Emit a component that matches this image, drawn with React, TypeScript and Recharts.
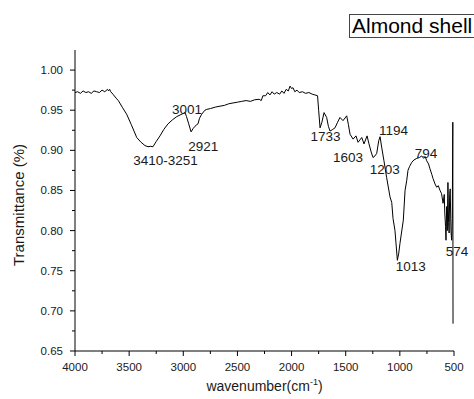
import { LineChart, Line, XAxis, YAxis, ReferenceDot, Label } from "recharts";

// FTIR spectrum of almond shell
const wavenumber = [
  4000, 3975, 3950, 3925, 3900, 3875, 3850, 3825, 3800, 3775, 3750, 3725, 3700, 3690, 3680, 3670,
  3650, 3620, 3600, 3560, 3523, 3480, 3430, 3390, 3354, 3326, 3300, 3280, 3250, 3215, 3180, 3141,
  3100, 3060, 3030, 3000, 2984, 2970, 2950, 2928, 2910, 2892, 2875, 2864, 2850, 2830, 2800, 2784,
  2750, 2700, 2661, 2620, 2580, 2541, 2500, 2460, 2420, 2380, 2340, 2300, 2280, 2265, 2240, 2220,
  2200, 2180, 2160, 2137, 2110, 2090, 2070, 2050, 2030, 2014, 2000, 1987, 1970, 1950, 1930, 1900,
  1870, 1840, 1810, 1784, 1760, 1750, 1737, 1720, 1700, 1676, 1660, 1645, 1620, 1599, 1575, 1553,
  1525, 1491, 1475, 1460, 1432, 1405, 1386, 1352, 1331, 1303, 1285, 1265, 1248, 1230, 1214, 1195,
  1183, 1168, 1147, 1122, 1091, 1075, 1063, 1045, 1023, 1010, 999, 968, 952, 937, 925, 910,
  890, 870, 844, 820, 798, 780, 765, 752, 735, 722, 705, 694, 675, 660, 645, 629,
  615, 601, 590, 585, 578, 574, 568, 562, 556, 550, 545, 540, 535, 528, 522, 516,
  511, 509,
];

const transmittance = [
  0.972, 0.973, 0.971, 0.974, 0.972, 0.973, 0.971, 0.974, 0.973, 0.972, 0.975, 0.973, 0.976, 0.974, 0.976, 0.973,
  0.97, 0.965, 0.962, 0.953, 0.945, 0.932, 0.916, 0.91, 0.906, 0.9045, 0.905, 0.9045, 0.911, 0.918, 0.926, 0.933,
  0.938, 0.942, 0.944, 0.946, 0.947, 0.942, 0.933, 0.923, 0.927, 0.93, 0.932, 0.933, 0.94, 0.945, 0.95, 0.951,
  0.952, 0.954, 0.955, 0.956, 0.958, 0.959, 0.96, 0.961, 0.962, 0.961, 0.963, 0.9636, 0.962, 0.968, 0.968, 0.972,
  0.969, 0.973, 0.97, 0.972, 0.97, 0.974, 0.971, 0.976, 0.974, 0.98, 0.977, 0.978, 0.973, 0.975, 0.972, 0.973,
  0.971, 0.972, 0.97, 0.969, 0.968, 0.95, 0.928, 0.935, 0.947, 0.941, 0.93, 0.924, 0.926, 0.928, 0.935, 0.941,
  0.937, 0.943, 0.932, 0.92, 0.914, 0.918, 0.91, 0.916, 0.908, 0.918, 0.908, 0.898, 0.891, 0.893, 0.896, 0.912,
  0.917, 0.904, 0.887, 0.866, 0.842, 0.835, 0.815, 0.8, 0.763, 0.772, 0.784, 0.813, 0.85, 0.862, 0.875, 0.88,
  0.885, 0.888, 0.89, 0.891, 0.893, 0.89, 0.892, 0.887, 0.883, 0.877, 0.87, 0.865, 0.858, 0.854, 0.856, 0.85,
  0.846, 0.834, 0.845, 0.822, 0.805, 0.788, 0.83, 0.8, 0.86, 0.81, 0.797, 0.845, 0.852, 0.8, 0.788, 0.815,
  0.935, 0.684,
];

// peak annotations: text and where its centre sits in data units
const peakLabels = ["3410-3251", "3001", "2921", "1733", "1603", "1194", "1203", "794", "1013", "574"];
const peakLabelWn = [3165, 2965, 2816, 1686, 1478, 1059, 1139, 759, 899, 473];
const peakLabelT = [0.8871, 0.9516, 0.9057, 0.9181, 0.892, 0.9252, 0.8768, 0.8962, 0.7556, 0.7742];

const xTicks = [500, 750, 1000, 1250, 1500, 1750, 2000, 2250, 2500, 2750, 3000, 3250, 3500, 3750, 4000];
const yTicks = [0.65, 0.675, 0.7, 0.725, 0.75, 0.775, 0.8, 0.825, 0.85, 0.875, 0.9, 0.925, 0.95, 0.975, 1.0];

const data = wavenumber.map((wn, i) => ({ wn, t: transmittance[i] }));

const FONT = "'Liberation Sans', Arial, sans-serif";
const INK = "#1a1a1a";

function XTick(props: any) {
  const { x, y, payload } = props;
  const axisY = y - 11; // tickSize 5 + tickMargin 6
  const major = payload.value % 500 === 0;
  return (
    <g>
      <line x1={x} x2={x} y1={axisY} y2={axisY + (major ? 5 : 3)} stroke="#000" />
      {major && (
        <text x={x} y={axisY + 20} textAnchor="middle" fontSize={11.5} fill={INK}>
          {payload.value}
        </text>
      )}
    </g>
  );
}

function YTick(props: any) {
  const { x, y, payload } = props;
  const axisX = x + 12; // tickSize 5 + tickMargin 7
  const major = Math.round(payload.value * 1000) % 50 === 0;
  return (
    <g>
      <line x1={axisX - (major ? 5 : 3)} x2={axisX} y1={y} y2={y} stroke="#000" />
      {major && (
        <text x={x} y={y + 4} textAnchor="end" fontSize={11.5} fill={INK}>
          {payload.value.toFixed(2)}
        </text>
      )}
    </g>
  );
}

export default function App() {
  return (
    <div
      style={{
        position: "absolute",
        left: 0,
        top: 0,
        width: 474,
        height: 399,
        overflow: "hidden",
        background: "#fff",
        fontFamily: FONT,
      }}
    >
      <LineChart width={474} height={399} data={data} margin={{ top: 50, right: 20, bottom: 0, left: 0 }}>
        <XAxis
          type="number"
          dataKey="wn"
          domain={[500, 4000]}
          reversed
          ticks={xTicks}
          interval={0}
          tick={<XTick />}
          tickLine={false}
          tickSize={5}
          tickMargin={6}
          axisLine={{ stroke: "#000" }}
          height={48}
        >
          <Label
            content={(p: any) => {
              const vb = p.viewBox;
              return (
                <text x={vb.x + vb.width / 2} y={vb.y + 40} textAnchor="middle" fontSize={14} fill={INK}>
                  wavenumber(cm
                  <tspan dy={-6} fontSize={9}>
                    -1
                  </tspan>
                  <tspan dy={6}>)</tspan>
                </text>
              );
            }}
          />
        </XAxis>
        <YAxis
          type="number"
          domain={[0.65, 1.025]}
          ticks={yTicks}
          interval={0}
          tick={<YTick />}
          tickLine={false}
          tickSize={5}
          tickMargin={7}
          axisLine={{ stroke: "#000" }}
          width={75}
        >
          <Label
            content={() => {
              const cx = 24;
              const cy = 205;
              return (
                <text
                  x={cx}
                  y={cy}
                  textAnchor="middle"
                  fontSize={15}
                  fill={INK}
                  transform={`rotate(-90, ${cx}, ${cy})`}
                >
                  Transmittance (%)
                </text>
              );
            }}
          />
        </YAxis>
        <Line
          type="linear"
          dataKey="t"
          stroke="#000"
          strokeWidth={1}
          dot={false}
          activeDot={false}
          isAnimationActive={false}
        />
        {peakLabels.map((txt, i) => (
          <ReferenceDot
            key={txt}
            x={peakLabelWn[i]}
            y={peakLabelT[i]}
            r={1}
            fill="none"
            stroke="none"
            ifOverflow="visible"
            label={{ value: txt, position: "center", fontSize: 13.5, fill: INK }}
          />
        ))}
      </LineChart>
      <div
        style={{
          position: "absolute",
          left: 349,
          top: 14,
          width: 140,
          height: 22,
          lineHeight: "22px",
          border: "1px solid #444",
          paddingLeft: 2,
          fontSize: 21,
          color: "#000",
          whiteSpace: "nowrap",
        }}
      >
        Almond shell
      </div>
    </div>
  );
}
